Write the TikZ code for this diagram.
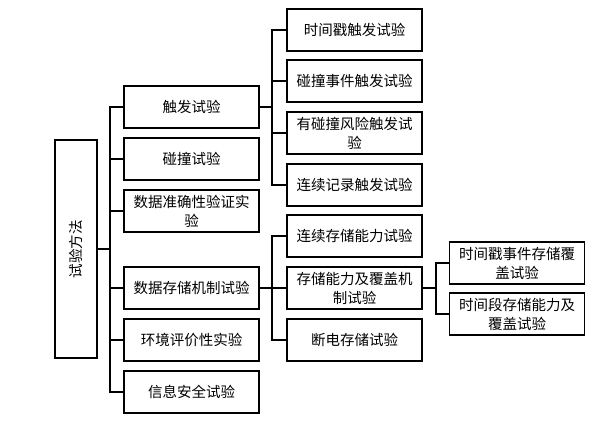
\documentclass[tikz,border=0pt]{standalone}
\usepackage{fontspec}
\usepackage{tikz}
\usetikzlibrary{positioning, calc}
\newfontfamily\cjk{Noto Sans CJK SC}

\begin{document}
\begin{tikzpicture}[
    x=1pt, y=-1pt,
    item/.style={draw=black, line width=1.3pt, fill=white,
                 minimum width=135pt, minimum height=42pt, inner sep=1pt,
                 align=center, font=\cjk\fontsize{14.5}{19}\selectfont},
    link/.style={draw=black, line width=1.4pt},
]
    \useasboundingbox (0,0) rectangle (596,420);

    % root
    \node[item, minimum width=42pt, minimum height=218pt] (root) at (76,249) {};
    \node[rotate=90, font=\cjk\fontsize{14.5}{19}\selectfont] at (root) {试验方法};

    % first level
    \node[item] (trig)  at (191.5,107) {触发试验};
    \node[item] (coll)  at (191.5,159) {碰撞试验};
    \node[item] (acc)   at (191.5,211) {数据准确性验证实\\验};
    \node[item] (store) at (191.5,288) {数据存储机制试验};
    \node[item] (env)   at (191.5,340) {环境评价性实验};
    \node[item] (sec)   at (191.5,392) {信息安全试验};

    % trigger tests
    \node[item] (ts)    at (354.5,30)  {时间戳触发试验};
    \node[item] (ce)    at (354.5,81)  {碰撞事件触发试验};
    \node[item] (risk)  at (354.5,133) {有碰撞风险触发试\\验};
    \node[item] (cont)  at (354.5,185) {连续记录触发试验};

    % storage tests
    \node[item] (cap)   at (354.5,236) {连续存储能力试验};
    \node[item] (cover) at (354.5,288) {存储能力及覆盖机\\制试验};
    \node[item] (power) at (354.5,340) {断电存储试验};

    % coverage tests
    \node[item] (tse)   at (517,263) {时间戳事件存储覆\\盖试验};
    \node[item] (tsp)   at (517,314) {时间段存储能力及\\覆盖试验};

    % connectors
    \coordinate (j0) at (110,249);
    \coordinate (j1) at (272,107);
    \coordinate (j2) at (272,288);
    \coordinate (j3) at (436,288);
    \foreach \n in {trig,coll,acc,store,env,sec}
        \draw[link] (root.east) -- (j0) |- (\n.west);
    \foreach \n in {ts,ce,risk,cont}
        \draw[link] (trig.east) -- (j1) |- (\n.west);
    \foreach \n in {cap,cover,power}
        \draw[link] (store.east) -- (j2) |- (\n.west);
    \foreach \n in {tse,tsp}
        \draw[link] (cover.east) -- (j3) |- (\n.west);
\end{tikzpicture}
\end{document}
